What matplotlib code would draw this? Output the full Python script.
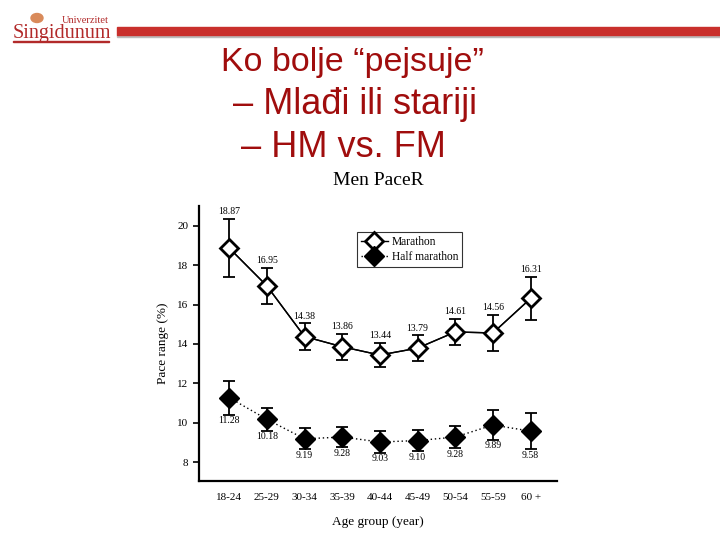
import matplotlib
matplotlib.use("Agg")
from matplotlib import pyplot as plt
from matplotlib.patches import Rectangle, Circle

# Podaci sa grafika
age_groups = ["18-24", "25-29", "30-34", "35-39", "40-44", "45-49", "50-54", "55-59", "60 +"]
marathon = [18.87, 16.95, 14.38, 13.86, 13.44, 13.79, 14.61, 14.56, 16.31]
marathon_err = [1.47, 0.90, 0.67, 0.65, 0.63, 0.65, 0.65, 0.90, 1.10]
half = [11.28, 10.18, 9.19, 9.28, 9.03, 9.10, 9.28, 9.89, 9.58]
half_err = [0.86, 0.58, 0.53, 0.53, 0.56, 0.54, 0.57, 0.76, 0.92]
y_ticks = [8, 10, 12, 14, 16, 18, 20]

slide_lines = ["Ko bolje \u201cpejsuje\u201d", "\u2013 Mla\u0111i ili stariji", "\u2013 HM vs. FM"]

W, H = 720, 540
fig = plt.figure(figsize=(7.2, 5.4), dpi=100)
fig.patch.set_facecolor("white")

# crvena traka i logo
fig.patches.append(Rectangle((117 / W, 1 - 35 / H), (W - 117) / W, 8 / H,
                             transform=fig.transFigure, color="#c9302c", zorder=1))
fig.patches.append(Rectangle((117 / W, 1 - 37 / H), (W - 117) / W, 2 / H,
                             transform=fig.transFigure, color="#bbbbbb", zorder=0))
fig.patches.append(Circle((37 / W, 1 - 18 / H), 6 / W, transform=fig.transFigure,
                          color="#d98a5a", zorder=1))
fig.text(13 / W, 1 - 38 / H, "Singidunum", fontsize=14.5, family="Liberation Serif",
         color="#b22a2a", ha="left", va="baseline")
fig.text(62 / W, 1 - 23 / H, "Univerzitet", fontsize=7.5, family="Liberation Serif",
         color="#b22a2a", ha="left", va="baseline")
fig.patches.append(Rectangle((13 / W, 1 - 42 / H), 96 / W, 1 / H,
                             transform=fig.transFigure, color="#b22a2a"))

# naslov slajda
title_x = [352, 355, 343]
title_y = [71, 114, 157]
title_size = [24.5, 26, 26]
for txt, xx, yy, fs in zip(slide_lines, title_x, title_y, title_size):
    fig.text(xx / W, 1 - yy / H, txt, fontsize=fs, family="Liberation Sans",
             color="#a00d0d", ha="center", va="baseline")

# grafik
ax = fig.add_axes([199 / W, 1 - 481 / H, (557 - 199) / W, (481 - 206) / H])
x = list(range(len(age_groups)))

ax.errorbar(x, marathon, yerr=marathon_err, fmt="-", color="black", lw=1,
            elinewidth=1.3, capsize=4.5, capthick=1.3, zorder=2)
ax.plot(x, marathon, "D-", color="black", lw=1, markersize=9.5,
        markerfacecolor="white", markeredgewidth=2, label="Marathon", zorder=3)
ax.errorbar(x, half, yerr=half_err, fmt="none", ecolor="black",
            elinewidth=1.3, capsize=4.5, capthick=1.3, zorder=2)
ax.plot(x, half, "D", linestyle=(0, (1, 2)), color="black", lw=1, markersize=10.5,
        markerfacecolor="black", label="Half marathon", zorder=3)

for i in x:
    ax.annotate(f"{marathon[i]:.2f}", (i, marathon[i] + marathon_err[i]),
                xytext=(0, 2), textcoords="offset points", ha="center", va="bottom",
                fontsize=7, family="Liberation Serif")
    ax.annotate(f"{half[i]:.2f}", (i, half[i] - half_err[i]),
                xytext=(0, -1), textcoords="offset points", ha="center", va="top",
                fontsize=7, family="Liberation Serif")

ax.set_xlim(-0.8, 8.7)
ax.set_ylim(7.05, 21)
ax.set_yticks(y_ticks)
ax.set_xticks(x)
ax.set_xticklabels(age_groups)
for s in ["top", "right"]:
    ax.spines[s].set_visible(False)
for s in ["left", "bottom"]:
    ax.spines[s].set_linewidth(1.6)
ax.tick_params(axis="y", direction="out", length=4, width=1.2, labelsize=8)
ax.tick_params(axis="x", length=0, pad=9, labelsize=8)
for lab in ax.get_xticklabels() + ax.get_yticklabels():
    lab.set_family("Liberation Serif")

ax.set_xlabel("Age group (year)", fontsize=9.5, family="Liberation Serif", labelpad=10)
ax.set_ylabel("Pace range (%)", fontsize=9.5, family="Liberation Serif", labelpad=6)
ax.set_title("Men PaceR", fontsize=14, family="Liberation Serif", pad=15)

leg = ax.legend(loc="upper left", bbox_to_anchor=(0.44, 0.905), fancybox=False,
                edgecolor="black", handlelength=2.4, borderpad=0.35,
                labelspacing=0.25, handletextpad=0.3, borderaxespad=0,
                prop={"family": "Liberation Serif", "size": 8.3})
leg.get_frame().set_linewidth(0.8)

fig.savefig("out.png", dpi=100)
